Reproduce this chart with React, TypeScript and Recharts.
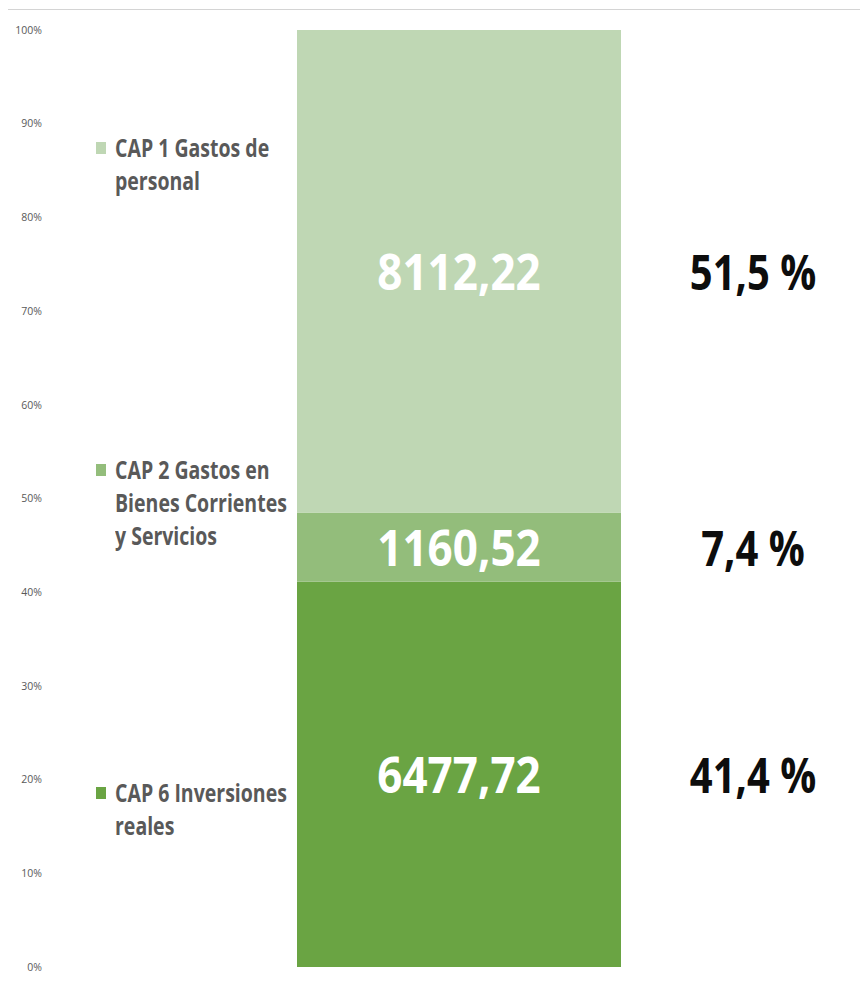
import { Bar, BarChart, LabelList, XAxis, YAxis } from "recharts";

// single 100% stacked column, bottom to top
const categories = ["Presupuesto"];
const seriesNames = [
  "CAP 6 Inversiones reales",
  "CAP 2 Gastos en Bienes Corrientes y Servicios",
  "CAP 1 Gastos de personal",
];
const cap6Values = [6477.72];
const cap2Values = [1160.52];
const cap1Values = [8112.22];
const shareLabels = ["41,4 %", "7,4 %", "51,5 %"];
const yTicks = [0, 0.1, 0.2, 0.3, 0.4, 0.5, 0.6, 0.7, 0.8, 0.9, 1];

const colors = ["#6aa443", "#93bd7b", "#bfd7b4"];
const keys = ["cap6", "cap2", "cap1"];

const data = categories.map((name, i) => ({
  name,
  cap6: cap6Values[i],
  cap2: cap2Values[i],
  cap1: cap1Values[i],
}));

const FONT = "'Open Sans', 'Noto Sans', sans-serif";

const fmt = (v: number) => v.toFixed(2).replace(".", ",");

function makeLabel(series: number) {
  return (props: any) => {
    const { x, y, width, height, value } = props;
    const cx = Number(x) + Number(width) / 2;
    const cy = Number(y) + Number(height) / 2;
    return (
      <g>
        <text
          transform={`translate(${cx} ${cy}) scale(1 1.12)`}
          textAnchor="middle"
          dominantBaseline="central"
          fontFamily={FONT}
          fontWeight={700}
          fontSize={44}
          fill="#ffffff"
        >
          {fmt(Number(value))}
        </text>
        <text
          transform={`translate(745 ${cy}) scale(1 1.2)`}
          textAnchor="middle"
          dominantBaseline="central"
          fontFamily={FONT}
          fontWeight={700}
          fontSize={40}
          fill="#0d0d0d"
        >
          {shareLabels[series]}
        </text>
      </g>
    );
  };
}

// legend items sit at fixed heights on the left, top to bottom
const legendTops = [121.5, 443.5, 766.5];

export default function App() {
  const legendOrder = [2, 1, 0];
  return (
    <div
      style={{
        position: "relative",
        top: 1,
        width: 860,
        height: 971,
        borderTop: "1px solid #d4d4d4",
      }}
    >
      <div
        style={{
          position: "absolute",
          left: -1,
          top: -1,
          width: 1,
          height: 973,
          background: "#cfcfcf",
        }}
      />
      <BarChart
        width={860}
        height={971}
        data={data}
        stackOffset="expand"
        margin={{ top: 20, right: 0, bottom: 14, left: 0 }}
      >
        <XAxis dataKey="name" hide padding={{ left: 8, right: 0 }} />
        <YAxis
          width={34}
          ticks={yTicks}
          domain={[0, 1]}
          tickFormatter={(v: number) => `${Math.round(v * 100)}%`}
          axisLine={false}
          tickLine={false}
          tickSize={0}
          tickMargin={0}
          tick={{ fontSize: 10.5, fill: "#595959", fontFamily: FONT }}
        />
        {keys.map((k, i) => (
          <Bar
            key={k}
            dataKey={k}
            name={seriesNames[i]}
            stackId="a"
            fill={colors[i]}
            barSize={324}
            isAnimationActive={false}
          >
            <LabelList dataKey={k} content={makeLabel(i)} />
          </Bar>
        ))}
      </BarChart>
      {legendOrder.map((s, j) => (
        <div
          key={s}
          style={{
            position: "absolute",
            left: 88,
            top: legendTops[j],
            display: "flex",
            alignItems: "flex-start",
          }}
        >
          <div
            style={{
              width: 10,
              height: 12,
              marginTop: 10.5,
              background: colors[s],
              flex: "none",
            }}
          />
          <div
            style={{
              marginLeft: 9,
              width: 178,
              fontFamily: FONT,
              fontWeight: 700,
              fontSize: 19.5,
              lineHeight: "26.4px",
              color: "#595959",
              transform: "scaleY(1.25)",
              transformOrigin: "top left",
            }}
          >
            {seriesNames[s]}
          </div>
        </div>
      ))}
    </div>
  );
}
